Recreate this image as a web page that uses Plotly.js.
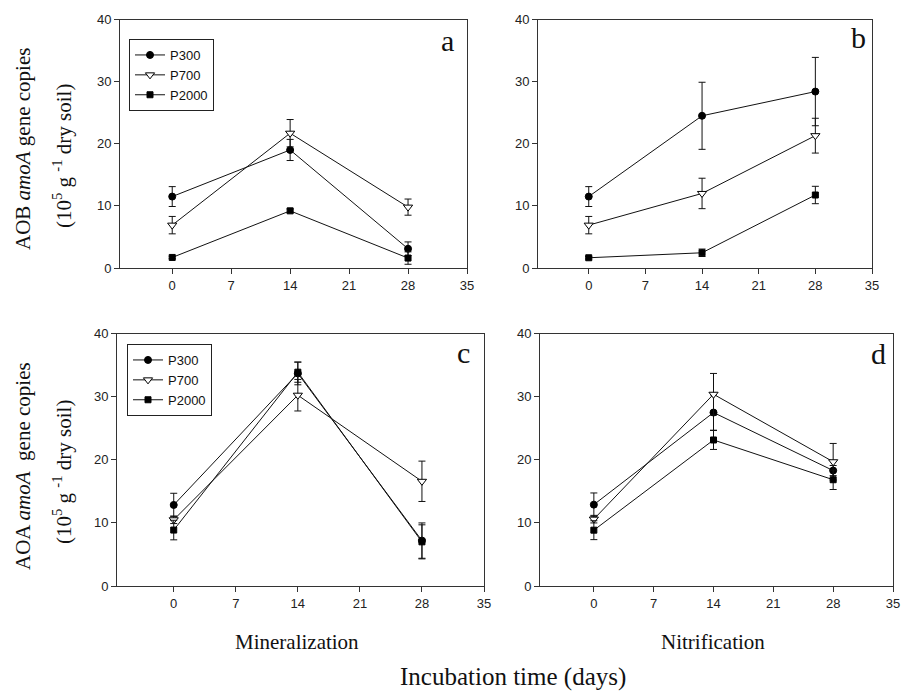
<!DOCTYPE html>
<html>
<head>
<meta charset="utf-8">
<script src="https://cdn.plot.ly/plotly-3.0.1.min.js"></script>
<style>html,body{margin:0;padding:0;background:#fff;}#chart{width:913px;height:693px;}</style>
</head>
<body>
<div id="chart"></div>
<script>
// ---- data ----
const days = [0, 14, 28];
const seriesNames = ['P300', 'P700', 'P2000'];
const xTicks = [0, 7, 14, 21, 28, 35];
const yTicks = [0, 10, 20, 30, 40];

// Panel a: AOB, Mineralization
const aP300 = [11.5, 19.0, 3.1];   const aP300err = [1.6, 1.7, 1.1];
const aP700 = [6.9, 21.7, 9.8];    const aP700err = [1.4, 2.2, 1.3];
const aP2000 = [1.7, 9.2, 1.6];    const aP2000err = [0.2, 0.3, 1.0];
// Panel b: AOB, Nitrification
const bP300 = [11.5, 24.5, 28.4];  const bP300err = [1.6, 5.4, 5.5];
const bP700 = [6.9, 12.0, 21.3];   const bP700err = [1.4, 2.45, 2.8];
const bP2000 = [1.65, 2.45, 11.75]; const bP2000err = [0.2, 0.6, 1.4];
// Panel c: AOA, Mineralization
const cP300 = [12.85, 33.7, 7.2];  const cP300err = [1.85, 1.8, 2.8];
const cP700 = [10.5, 30.25, 16.6]; const cP700err = [0.6, 2.5, 3.2];
const cP2000 = [8.87, 33.9, 7.0];  const cP2000err = [1.55, 1.6, 2.7];
// Panel d: AOA, Nitrification
const dP300 = [12.9, 27.5, 18.3];  const dP300err = [1.85, 2.8, 0.8];
const dP700 = [10.6, 30.4, 19.7];  const dP700err = [0.6, 3.3, 2.9];
const dP2000 = [8.85, 23.15, 16.85]; const dP2000err = [1.5, 1.5, 1.55];

// ---- styling ----
const markerStyles = {
  P300: {symbol: 'circle', size: 7, color: '#000', line: {color: '#000', width: 1}},
  P700: {symbol: 'triangle-down', size: 8, color: '#fff', line: {color: '#000', width: 1}},
  P2000: {symbol: 'square', size: 6, color: '#000', line: {color: '#000', width: 1}}
};

function mk(name, y, err, xa, ya, legend, showlegend) {
  return {
    type: 'scatter', mode: 'lines+markers', name: name,
    x: days, y: y,
    xaxis: xa, yaxis: ya,
    line: {color: '#111', width: 1},
    marker: markerStyles[name],
    error_y: {type: 'data', array: err, visible: true, color: '#111', thickness: 1, width: 3.5},
    legend: legend, showlegend: showlegend, legendgroup: legend + name
  };
}

const panels = [
  {xa: 'x', ya: 'y', data: [[aP300, aP300err], [aP700, aP700err], [aP2000, aP2000err]], legend: 'legend', show: true},
  {xa: 'x2', ya: 'y2', data: [[bP300, bP300err], [bP700, bP700err], [bP2000, bP2000err]], legend: 'legend', show: false},
  {xa: 'x3', ya: 'y3', data: [[cP300, cP300err], [cP700, cP700err], [cP2000, cP2000err]], legend: 'legend2', show: true},
  {xa: 'x4', ya: 'y4', data: [[dP300, dP300err], [dP700, dP700err], [dP2000, dP2000err]], legend: 'legend2', show: false}
];

const traces = [];
panels.forEach(p => {
  p.data.forEach((d, i) => {
    traces.push(mk(seriesNames[i], d[0], d[1], p.xa, p.ya, p.legend, p.show));
  });
});

const W = 913, H = 693;
const px = v => v / W;
const py = v => 1 - v / H;

const sans = "'Liberation Sans', Arial, sans-serif";
const serif = "'Liberation Serif', 'Times New Roman', serif";
const tickFont = {family: sans, size: 13, color: '#222'};
function xAxis(l, r, lo) {
  return {
    domain: [px(l), px(r)], range: [lo, 35], tickmode: 'array', tickvals: xTicks,
    ticks: 'outside', ticklen: 5, tickwidth: 1, tickcolor: '#333',
    showline: true, linecolor: '#333', linewidth: 1, mirror: true,
    showgrid: false, zeroline: false, tickfont: tickFont, automargin: false, fixedrange: true
  };
}
function yAxis(t, b, anchor) {
  return {
    domain: [py(b), py(t)], range: [0, 40], tickmode: 'array', tickvals: yTicks,
    ticks: 'outside', ticklen: 5, tickwidth: 1, tickcolor: '#333',
    showline: true, linecolor: '#333', linewidth: 1, mirror: true,
    showgrid: false, zeroline: false, tickfont: tickFont, automargin: false, fixedrange: true,
    anchor: anchor
  };
}

const letterFont = {family: serif, size: 30, color: '#111'};
const titleFont = {family: serif, size: 21, color: '#111'};

const annotations = [
  {text: 'a', x: px(447), y: py(40), xref: 'paper', yref: 'paper', showarrow: false, font: letterFont, xanchor: 'center', yanchor: 'middle'},
  {text: 'b', x: px(858), y: py(38), xref: 'paper', yref: 'paper', showarrow: false, font: letterFont, xanchor: 'center', yanchor: 'middle'},
  {text: 'c', x: px(463), y: py(352), xref: 'paper', yref: 'paper', showarrow: false, font: letterFont, xanchor: 'center', yanchor: 'middle'},
  {text: 'd', x: px(878), y: py(353), xref: 'paper', yref: 'paper', showarrow: false, font: letterFont, xanchor: 'center', yanchor: 'middle'},
  {text: 'AOB <i>amoA</i> gene copies', x: px(23), y: py(149), xref: 'paper', yref: 'paper', showarrow: false, textangle: -90, font: titleFont, xanchor: 'center', yanchor: 'middle'},
  {text: '(10<sup>5</sup> g <sup>-1</sup> dry soil)', x: px(62), y: py(156), xref: 'paper', yref: 'paper', showarrow: false, textangle: -90, font: titleFont, xanchor: 'center', yanchor: 'middle'},
  {text: 'AOA <i>amoA</i>  gene copies', x: px(23), y: py(466), xref: 'paper', yref: 'paper', showarrow: false, textangle: -90, font: titleFont, xanchor: 'center', yanchor: 'middle'},
  {text: '(10<sup>5</sup> g <sup>-1</sup> dry soil)', x: px(62), y: py(472), xref: 'paper', yref: 'paper', showarrow: false, textangle: -90, font: titleFont, xanchor: 'center', yanchor: 'middle'},
  {text: 'Mineralization', x: px(297), y: py(642), xref: 'paper', yref: 'paper', showarrow: false, font: titleFont, xanchor: 'center', yanchor: 'middle'},
  {text: 'Nitrification', x: px(713), y: py(642), xref: 'paper', yref: 'paper', showarrow: false, font: titleFont, xanchor: 'center', yanchor: 'middle'},
  {text: 'Incubation time (days)', x: px(513), y: py(677), xref: 'paper', yref: 'paper', showarrow: false, font: {family: serif, size: 25, color: '#111'}, xanchor: 'center', yanchor: 'middle'}
];

const legendBase = {
  xref: 'paper', yref: 'paper', xanchor: 'left', yanchor: 'top',
  bgcolor: '#fff', bordercolor: '#222', borderwidth: 1,
  font: {family: sans, size: 13, color: '#111'},
  tracegroupgap: 0, itemwidth: 30
};

const layout = {
  width: W, height: H,
  margin: {l: 0, r: 0, t: 0, b: 0},
  paper_bgcolor: '#fff', plot_bgcolor: '#fff',
  xaxis: Object.assign(xAxis(120, 467, -6.2), {anchor: 'y'}),
  yaxis: yAxis(19.5, 268, 'x'),
  xaxis2: Object.assign(xAxis(538, 872, -6.27), {anchor: 'y2'}),
  yaxis2: yAxis(19.5, 268, 'x2'),
  xaxis3: Object.assign(xAxis(117, 484, -6.4), {anchor: 'y3'}),
  yaxis3: yAxis(333.7, 586, 'x3'),
  xaxis4: Object.assign(xAxis(540, 893, -6.3), {anchor: 'y4'}),
  yaxis4: yAxis(333.7, 586, 'x4'),
  legend: Object.assign({}, legendBase, {x: px(129), y: py(39)}),
  legend2: Object.assign({}, legendBase, {x: px(127), y: py(344)}),
  annotations: annotations,
  showlegend: true
};

Plotly.newPlot('chart', traces, layout, {displayModeBar: false, staticPlot: true});
</script>
</body>
</html>
